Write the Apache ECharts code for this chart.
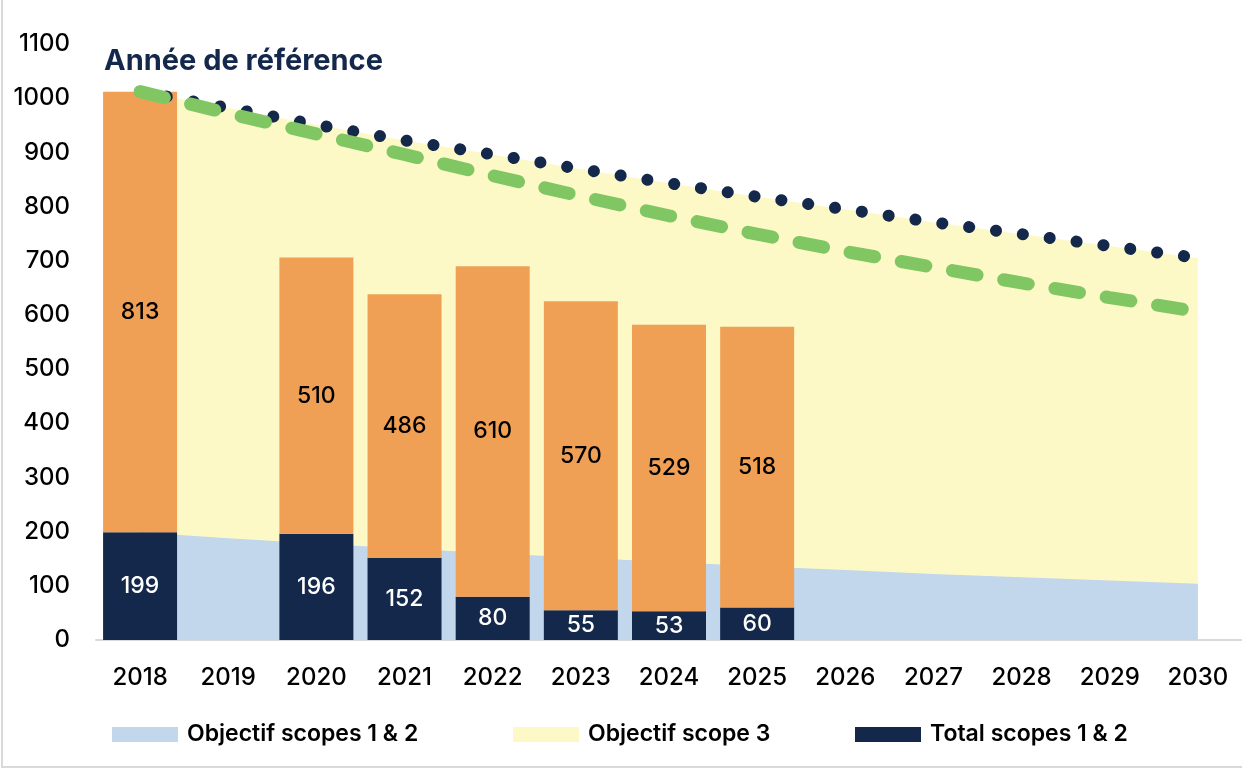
<!DOCTYPE html>
<html>
<head>
<meta charset="utf-8">
<script src="https://cdn.jsdelivr.net/npm/echarts@6/dist/echarts.min.js"></script>
<style>
  html, body { margin: 0; padding: 0; background: #fff; }
  #chart { width: 1242px; height: 770px; }
</style>
</head>
<body>
<div id="chart"></div>
<script>
  const years = ['2018', '2019', '2020', '2021', '2022', '2023', '2024', '2025', '2026', '2027', '2028', '2029', '2030']
  // bars
  const totalScopes12 = [199, null, 196, 152, 80, 55, 53, 60, null, null, null, null, null]
  const totalScope3 = [813, null, 510, 486, 610, 570, 529, 518, null, null, null, null, null]
  // target areas / lines
  const targetScopes12 = [199, 188, 178, 169, 160, 152, 144, 136, 129, 122, 116, 110, 104]
  const targetTotal = [1012, 982, 951, 922, 896, 869, 843, 818, 795, 771, 749, 727, 705]
  const targetGreen = [1012, 972, 934, 896, 857, 819, 783, 749, 717, 688, 659, 632, 606]

  const navy = '#14284B'
  const font = 'Inter'

  const chart = echarts.init(document.getElementById('chart'))

  function legendAt (name, left) {
    return {
      data: [name],
      left: left,
      top: 723,
      padding: 0,
      icon: 'rect',
      itemWidth: 66,
      itemHeight: 15,
      selectedMode: false,
      textStyle: { fontFamily: font, fontSize: 23, fontWeight: 600, color: '#000', padding: [0, 0, 0, 4] }
    }
  }

  chart.setOption({
    animation: false,
    textStyle: { fontFamily: font },
    title: {
      text: 'Année de référence',
      left: 99,
      top: 42,
      textStyle: { fontFamily: font, fontSize: 29, fontWeight: 'bold', color: navy }
    },
    graphic: [{
      type: 'rect',
      shape: { x: 2, y: -10, width: 1260, height: 777 },
      style: { fill: 'none', stroke: '#D9D9D9', lineWidth: 2 },
      silent: true
    }],
    legend: [
      legendAt('Objectif scopes 1 & 2', 112),
      legendAt('Objectif scope 3', 513),
      legendAt('Total scopes 1 & 2', 855)
    ],
    grid: { left: 96, top: 44, width: 1148, height: 596 },
    xAxis: {
      type: 'category',
      data: years,
      axisTick: { show: false },
      axisLine: { lineStyle: { color: '#D9D9D9', width: 2 } },
      axisLabel: { fontFamily: font, fontSize: 24, fontWeight: 500, color: '#000', margin: 26 }
    },
    yAxis: {
      type: 'value',
      min: 0,
      max: 1100,
      interval: 100,
      splitLine: { show: false },
      axisLine: { show: false },
      axisTick: { show: false },
      axisLabel: { fontFamily: font, fontSize: 24, fontWeight: 500, color: '#000', margin: 26, formatter: v => String(v) }
    },
    series: [
      {
        name: 'Objectif scope 3',
        type: 'line',
        z: 1,
        data: targetTotal,
        color: '#FDF9C7',
        symbol: 'none',
        lineStyle: { width: 0 },
        areaStyle: { color: '#FDF9C7', opacity: 1 }
      },
      {
        name: 'Objectif scopes 1 & 2',
        type: 'line',
        z: 1,
        data: targetScopes12,
        color: '#C2D6EC',
        symbol: 'none',
        lineStyle: { width: 0 },
        areaStyle: { color: '#C2D6EC', opacity: 1 }
      },
      {
        name: 'Total scopes 1 & 2',
        type: 'bar',
        z: 3,
        stack: 'total',
        barWidth: 74,
        data: totalScopes12,
        color: navy,
        label: { show: true, position: 'inside', color: '#fff', fontFamily: font, fontSize: 23, fontWeight: 500 }
      },
      {
        name: 'Total scope 3',
        type: 'bar',
        z: 3,
        stack: 'total',
        barWidth: 74,
        data: totalScope3,
        color: '#F0A055',
        label: { show: true, position: 'inside', color: '#000', fontFamily: font, fontSize: 23, fontWeight: 500 }
      },
      {
        name: 'Trajectoire totale',
        type: 'line',
        z: 4,
        data: targetTotal,
        symbol: 'none',
        lineStyle: { color: navy, width: 12, type: [0.1, 27], cap: 'round' }
      },
      {
        name: 'Trajectoire SBTi',
        type: 'line',
        z: 5,
        data: targetGreen,
        symbol: 'none',
        lineStyle: { color: '#80C764', width: 13, type: [25, 27], cap: 'round' }
      }
    ]
  })
</script>
</body>
</html>
